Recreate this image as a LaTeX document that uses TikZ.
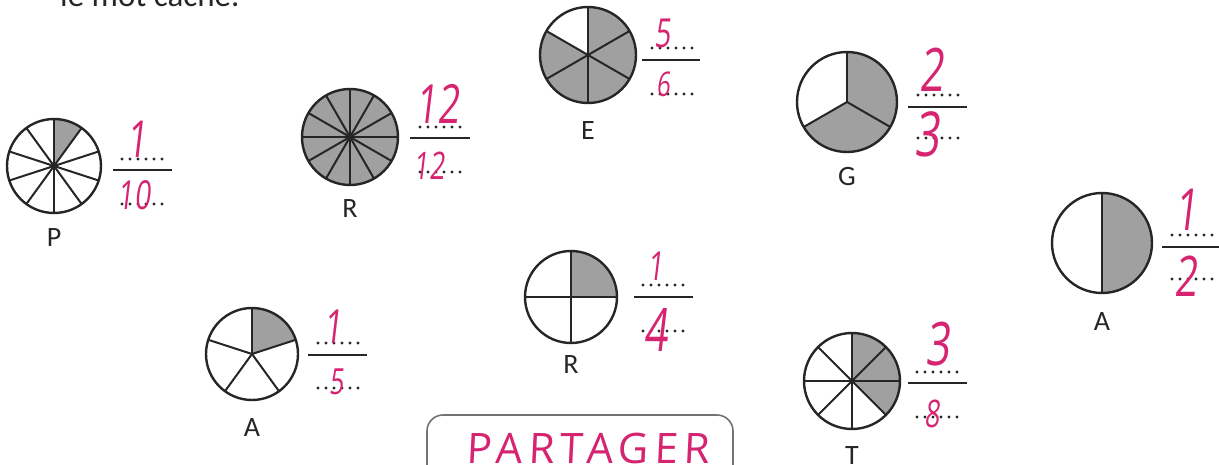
\documentclass[tikz,border=0pt]{standalone}
\usepackage{fontspec}
\setmainfont{Carlito}
\newfontfamily\handfont[FakeSlant=0.12,FakeStretch=0.7]{Open Sans}
\newfontfamily\handcaps[FakeSlant=0.05,LetterSpace=14]{Open Sans}
\definecolor{pen}{RGB}{214,36,112}
\definecolor{shadegray}{RGB}{160,160,160}
\begin{document}
\begin{tikzpicture}[x=1pt,y=1pt,
  rim/.style={draw=black!85, line width=2.4pt},
  spoke/.style={draw=black!85, line width=2pt},
  shaded/.style={fill=shadegray},
  lettre/.style={font=\fontsize{28}{28}\selectfont, text=black!85, inner sep=0pt},
  hand/.style={font=\handfont\fontsize{#1}{#1}\selectfont, text=pen, inner sep=0pt},
  fbar/.style={draw=black!85, line width=2pt},
  dots/.style={draw=black!85, line width=3.2pt, line cap=round, dash pattern=on 0pt off 8pt},
  pics/fracpie/.style n args={3}{code={
    \fill[shaded] (0,0) -- (90:#3) arc[start angle=90, delta angle={-360*#2/#1}, radius=#3] -- cycle;
    \foreach \i in {1,...,#1} \draw[spoke] (0,0) -- ({90-360*\i/#1}:#3);
    \draw[rim] (0,0) circle[radius=#3];
  }}
]
\useasboundingbox (0,0) rectangle (1219,-465);
\clip (0,0) rectangle (1219,-465);
\fill[white] (0,0) rectangle (1219,-465);

% heading (cut off)
\node[anchor=base west, font=\fontsize{33}{33}\selectfont, text=black!85, inner sep=0pt] (heading) at (60,-7) {le mot caché.};

% P : 1/10
\pic (pieP) at (54,-166) {fracpie={10}{1}{47}};
\node[lettre] (labP) at (54,-238) {P};
\draw[fbar] (113,-170) -- (172,-170);
\draw[dots] (122,-159) -- (162,-159);
\draw[dots] (122,-204) -- (162,-204);
\node[hand=51] (numP) at (137,-139) {1};
\node[hand=40] (denP) at (134,-195) {10};

% R : 12/12
\pic (pieR) at (350,-137) {fracpie={12}{12}{48}};
\node[lettre] (labR) at (350,-209) {R};
\draw[fbar] (410,-138) -- (470,-138);
\draw[dots] (420,-127) -- (460,-127);
\draw[dots] (420,-172) -- (460,-172);
\node[hand=54] (numR) at (437,-104) {12};
\node[hand=38] (denR) at (429,-166) {12};

% E : 5/6
\pic (pieE) at (588,-55) {fracpie={6}{5}{48}};
\node[lettre] (labE) at (588,-131) {E};
\draw[fbar] (642,-60) -- (700,-60);
\draw[dots] (652,-48) -- (692,-48);
\draw[dots] (652,-94) -- (692,-94);
\node[hand=40] (numE) at (662,-33) {5};
\node[hand=34] (denE) at (663,-84) {6};

% G : 2/3
\pic (pieG) at (847,-102) {fracpie={3}{2}{50}};
\node[lettre] (labG) at (847,-177) {G};
\draw[fbar] (908,-107) -- (967,-107);
\draw[dots] (918,-95) -- (958,-95);
\draw[dots] (918,-138) -- (958,-138);
\node[hand=60] (numG) at (931,-70) {2};
\node[hand=62] (denG) at (927,-134) {3};

% A : 1/2
\pic (pieA) at (1102,-243) {fracpie={2}{1}{50}};
\node[lettre] (labA) at (1102,-322) {A};
\draw[fbar] (1162,-247) -- (1219,-247);
\draw[dots] (1172,-235) -- (1212,-235);
\draw[dots] (1172,-279) -- (1212,-279);
\node[hand=58] (numA) at (1186,-210) {1};
\node[hand=56] (denA) at (1186,-276) {2};

% A : 1/5
\pic (pieAf) at (252,-354) {fracpie={5}{1}{46}};
\node[lettre] (labAf) at (252,-428) {A};
\draw[fbar] (308,-355) -- (367,-355);
\draw[dots] (318,-343) -- (358,-343);
\draw[dots] (318,-388) -- (358,-388);
\node[hand=47] (numAf) at (333,-327) {1};
\node[hand=36] (denAf) at (336,-382) {5};

% R : 1/4
\pic (pieRq) at (571,-297) {fracpie={4}{1}{46}};
\node[lettre] (labRq) at (571,-365) {R};
\draw[fbar] (634,-297) -- (693,-297);
\draw[dots] (643,-285) -- (683,-285);
\draw[dots] (643,-331) -- (683,-331);
\node[hand=40] (numRq) at (655,-266) {1};
\node[hand=60] (denRq) at (656,-330) {4};

% T : 3/8
\pic (pieT) at (852,-381) {fracpie={8}{3}{48}};
\node[lettre] (labT) at (852,-456) {T};
\draw[fbar] (908,-383) -- (967,-383);
\draw[dots] (917,-372) -- (957,-372);
\draw[dots] (917,-417) -- (957,-417);
\node[hand=60] (numT) at (937,-344) {3};
\node[hand=38] (denT) at (932,-414) {8};

% answer box
\draw[draw=black!55, line width=1.6pt, rounded corners=16pt] (427,-415) rectangle (733,-500);
\node[anchor=base, font=\handcaps\fontsize{42}{42}\selectfont, text=pen, inner sep=0pt] (mot) at (588,-463) {PARTAGER};
\end{tikzpicture}
\end{document}
